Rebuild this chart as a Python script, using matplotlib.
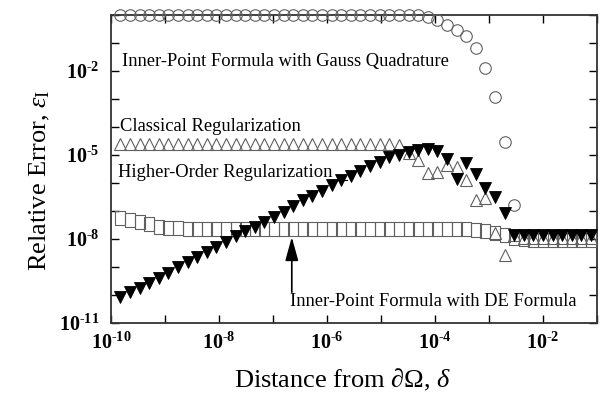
import numpy as np
import matplotlib
matplotlib.use("Agg")
import matplotlib.pyplot as plt
from matplotlib.path import Path
from matplotlib.ticker import FixedLocator, FuncFormatter, NullLocator

plt.rcParams['font.family'] = ['Liberation Serif', 'DejaVu Serif']
plt.rcParams['mathtext.fontset'] = 'custom'
plt.rcParams['mathtext.rm'] = 'Liberation Serif'
plt.rcParams['mathtext.it'] = 'Liberation Serif:italic'
plt.rcParams['mathtext.bf'] = 'Liberation Serif:bold'

# ---- data (log10 values) ----
log_delta = [-9.83, -9.65, -9.47, -9.30, -9.12, -8.94, -8.76, -8.58, -8.41, -8.23,
             -8.05, -7.87, -7.69, -7.52, -7.34, -7.16, -6.98, -6.80, -6.63, -6.45,
             -6.27, -6.09, -5.91, -5.74, -5.56, -5.38, -5.20, -5.02, -4.85, -4.67,
             -4.49, -4.31, -4.13, -3.96, -3.78, -3.60, -3.42, -3.24, -3.07, -2.89,
             -2.71, -2.53, -2.35, -2.18, -2.00, -1.82, -1.64, -1.46, -1.29, -1.11]

log_gauss = [0.0] * 32 + [-0.07, -0.18, -0.36, -0.54, -0.75, -1.18, -1.89, -2.93,
                          -4.54, -6.79] + [np.nan] * 8

log_classical = [-4.60] * 29 + [-4.66, -4.93, -5.18, -5.64, -5.61, -5.36, -5.43, -5.89,
                                -6.61, -6.54, -7.79, -8.57, -7.86] + [-7.96] * 8

log_higher = [-10.06, -9.88, -9.76, -9.58, -9.40, -9.20, -8.99, -8.81, -8.63, -8.45,
              -8.28, -8.10, -7.89, -7.70, -7.56, -7.38, -7.20, -7.03, -6.82, -6.61,
              -6.46, -6.28, -6.07, -5.89, -5.75, -5.56, -5.39, -5.24, -5.06, -5.00,
              -4.88, -4.82, -4.79, -4.84, -5.15, -5.87, -5.30, -5.68, -6.19, -6.51,
              -7.08] + [-7.85] * 9

log_de = [-7.26, -7.32, -7.38, -7.46, -7.56, -7.60, -7.62] + [-7.64] * 30 + \
         [-7.68, -7.73, -7.79, -7.86, -7.95, -8.00] + [-8.05] * 7

x_major_exp = list(range(-10, 0))
x_label_exp = [-10, -8, -6, -4, -2]
y_major_exp = list(range(-11, 1))
y_label_exp = [-11, -8, -5, -2]

delta = 10.0 ** np.array(log_delta)
gauss = 10.0 ** np.array(log_gauss)
classical = 10.0 ** np.array(log_classical)
higher = 10.0 ** np.array(log_higher)
de = 10.0 ** np.array(log_de)

# ---- figure ----
fig = plt.figure(figsize=(6.02, 3.96), dpi=100)
ax = fig.add_axes([111 / 602, 73 / 396, 486 / 602, 308 / 396])
ax.set_xscale('log')
ax.set_yscale('log')
ax.set_xlim(1e-10, 1e-1)
ax.set_ylim(1e-11, 1e0)

edge = '#606060'
rect = Path([(-0.39, -0.5), (0.39, -0.5), (0.39, 0.5), (-0.39, 0.5), (-0.39, -0.5)],
            [Path.MOVETO, Path.LINETO, Path.LINETO, Path.LINETO, Path.CLOSEPOLY])

ax.plot(delta, de, ls='none', marker=rect, ms=9.4, mfc='none', mec=edge, mew=0.8,
        clip_on=False, zorder=3)
ax.plot(delta, classical, ls='none', marker='^', ms=8.0, mfc='none', mec=edge, mew=0.8,
        clip_on=False, zorder=3)
ax.plot(delta, higher, ls='none', marker='v', ms=8.0, mfc='black', mec='black', mew=0.6,
        clip_on=False, zorder=4)
ax.plot(delta, gauss, ls='none', marker='o', ms=8.3, mfc='none', mec=edge, mew=0.8,
        clip_on=False, zorder=3)

# ---- ticks ----
ax.xaxis.set_major_locator(FixedLocator([10.0 ** e for e in x_major_exp]))
ax.xaxis.set_minor_locator(NullLocator())
ax.yaxis.set_major_locator(FixedLocator([10.0 ** e for e in y_major_exp]))
ax.yaxis.set_minor_locator(NullLocator())


def make_fmt(allowed):
    def f(v, pos):
        e = int(round(np.log10(v)))
        if e in allowed:
            return '$\\mathbf{10}^{\\mathbf{\u2010%d}}$' % (-e)
        return ''
    return f


ax.xaxis.set_major_formatter(FuncFormatter(make_fmt(x_label_exp)))
ax.yaxis.set_major_formatter(FuncFormatter(make_fmt(y_label_exp)))
ax.tick_params(axis='both', which='major', direction='in', length=6, width=1.0,
               top=True, right=True, labelsize=14.5, colors='black')
ax.tick_params(axis='x', pad=7)
ax.tick_params(axis='y', pad=8)
for s in ax.spines.values():
    s.set_linewidth(1.3)
    s.set_color('#333333')

# ---- labels ----
ax.set_xlabel(r'Distance from $\partial\Omega$, $\mathit{\delta}$', fontsize=19)
ax.xaxis.set_label_coords(0.477, -0.143)
ax.set_ylabel(r'Relative Error, $\mathit{\varepsilon}_{\mathrm{I}}$', fontsize=19)
ax.yaxis.set_label_coords(-0.122, 0.464)

# ---- annotations ----
tkw = dict(transform=ax.transAxes, fontsize=13.3, va='baseline', ha='left')
ax.text(0.0226, 0.834, 'Inner-Point Formula with Gauss Quadrature', **tkw)
ax.text(0.0185, 0.624, 'Classical Regularization', **tkw)
ax.text(0.0144, 0.473, 'Higher-Order Regularization', **tkw)
ax.plot([0.455, 0.486], [0.464, 0.464], transform=ax.transAxes, color='black', lw=0.8)
ax.text(0.368, 0.055, 'Inner-Point Formula with DE Formula', **tkw)
ax.annotate('', xy=(0.372, 0.279), xytext=(0.372, 0.10),
            xycoords='axes fraction', textcoords='axes fraction',
            arrowprops=dict(arrowstyle='-|>,head_length=1.45,head_width=0.4',
                            color='black', lw=1.2, shrinkA=0, shrinkB=0))

fig.savefig('out.png', dpi=100)
